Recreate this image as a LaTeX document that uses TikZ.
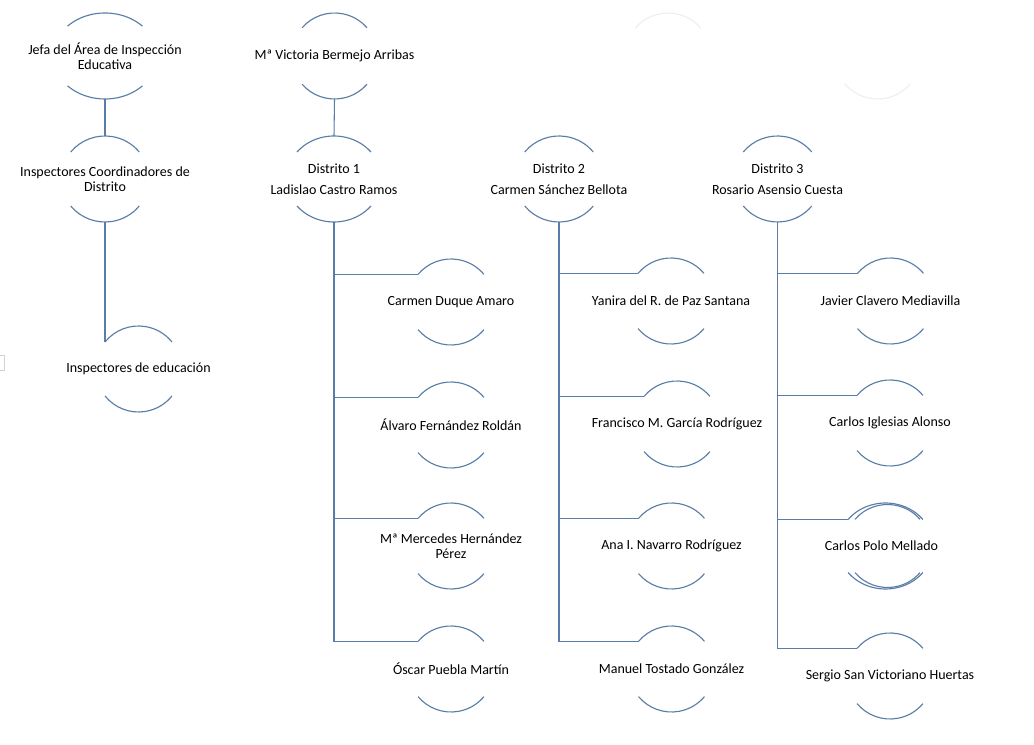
\documentclass[tikz,border=0pt]{standalone}
\usepackage{fontspec}
\setmainfont{Carlito}
\usetikzlibrary{calc}
\definecolor{lc}{RGB}{88,126,168}
\definecolor{faint}{RGB}{238,238,238}
\tikzset{
  arcline/.style={draw=lc,line width=0.85pt},
  conn/.style={draw=lc,line width=0.8pt},
  txt/.style={align=center,inner sep=0pt,font=\fontsize{10.5}{11.25}\selectfont,text=black}
}
% name, x, y (px from top), x radius, angle, text
\newcommand\orgnode[6]{%
  \pgfmathsetmacro\angA{180-#5}%
  \pgfmathsetmacro\angB{180+#5}%
  \pgfmathsetmacro\angC{360-#5}%
  \node[txt] (#1) at (#2,745-#3) {#6};
  \coordinate (#1-c) at (#2,745-#3);
  \coordinate (#1-top) at (#2,745-#3+43);
  \coordinate (#1-bot) at (#2,745-#3-43);
  \coordinate (#1-tl) at ($(#1-c)+(\angA:#4 and 43)$);
  \coordinate (#1-bl) at ($(#1-c)+(\angB:#4 and 43)$);
  \draw[arcline] (#1-tl) arc[start angle=\angA,end angle=#5,x radius=#4,y radius=43];
  \draw[arcline] (#1-bl) arc[start angle=\angB,end angle=\angC,x radius=#4,y radius=43];
}
\begin{document}
\begin{tikzpicture}[x=0.75pt,y=0.75pt]
\useasboundingbox (0,0) rectangle (1034,745);
\fill[white] (0,0) rectangle (1034,745);

% faint leftovers
\draw[draw=faint,line width=0.8pt] ($(668,745-56)+(140:43 and 43)$) arc[start angle=140,end angle=40,x radius=43,y radius=43];
\draw[draw=faint,line width=0.8pt] ($(877.5,745-56)+(220:43 and 43)$) arc[start angle=220,end angle=320,x radius=43,y radius=43];
\draw[draw=gray!35,line width=0.6pt] (-6,745-355) rectangle (4,745-370);

% left column
\orgnode{jefa}{105}{56}{52}{44}{Jefa del Área de Inspección\\Educativa}
\orgnode{coord}{105}{179}{44}{39}{Inspectores Coordinadores de\\Distrito}
\orgnode{insp}{138.5}{369}{43}{39}{Inspectores de educación}
\draw[conn] (jefa-bot) -- (coord-top);
\draw[conn] (coord-bot) |- (insp-tl);

% head
\orgnode{mv}{334.5}{56}{43}{41}{Mª Victoria Bermejo Arribas}
\orgnode{d1}{334}{179}{47.5}{39}{Distrito 1\\[4.5pt]Ladislao Castro Ramos}
\orgnode{d2}{559}{179}{44}{39}{Distrito 2\\[4.5pt]Carmen Sánchez Bellota}
\orgnode{d3}{777.5}{179}{44}{39}{Distrito 3\\[4.5pt]Rosario Asensio Cuesta}
\draw[conn] (mv-bot) -- (d1-top);

% district 1
\orgnode{a1}{451}{302}{43}{40}{Carmen Duque Amaro}
\orgnode{a2}{451}{425}{43}{40}{Álvaro Fernández Roldán}
\orgnode{a3}{451}{546}{43}{40}{Mª Mercedes Hernández\\Pérez}
\orgnode{a4}{451}{669}{43}{40}{Óscar Puebla Martín}
\draw[conn] (d1-bot) |- (a4-tl);
\foreach \c in {a1,a2,a3} \draw[conn] (d1-bot |- \c-tl) -- (\c-tl);

% district 2
\orgnode{b1}{671}{301}{43}{40}{Yanira del R. de Paz Santana}
\orgnode{b2}{677}{424}{43}{40}{Francisco M. García Rodríguez}
\orgnode{b3}{671.5}{546}{43}{40}{Ana I. Navarro Rodríguez}
\orgnode{b4}{671.5}{669}{43}{40}{Manuel Tostado González}
\draw[conn] (d2-bot) |- (b4-tl);
\foreach \c in {b1,b2,b3} \draw[conn] (d2-bot |- \c-tl) -- (\c-tl);

% district 3
\orgnode{c1}{890.5}{301}{43}{40}{Javier Clavero Mediavilla}
\orgnode{c2}{890}{423}{43}{40}{Carlos Iglesias Alonso}
\orgnode{c3}{885.5}{546}{47.5}{38}{}
\node[txt] (c3txt) at (881.5,745-546) {Carlos Polo Mellado};
\draw[arcline] ($(887.5,745-546)+(140:42.4 and 41.5)$) arc[start angle=140,end angle=40,x radius=42.4,y radius=41.5];
\draw[arcline] ($(887.5,745-546)+(220:42.4 and 41.5)$) arc[start angle=220,end angle=320,x radius=42.4,y radius=41.5];
\orgnode{c4}{890}{676}{43}{40}{Sergio San Victoriano Huertas}
\draw[conn] (d3-bot) |- (c4-tl);
\foreach \c in {c1,c2,c3} \draw[conn] (d3-bot |- \c-tl) -- (\c-tl);
\end{tikzpicture}
\end{document}
